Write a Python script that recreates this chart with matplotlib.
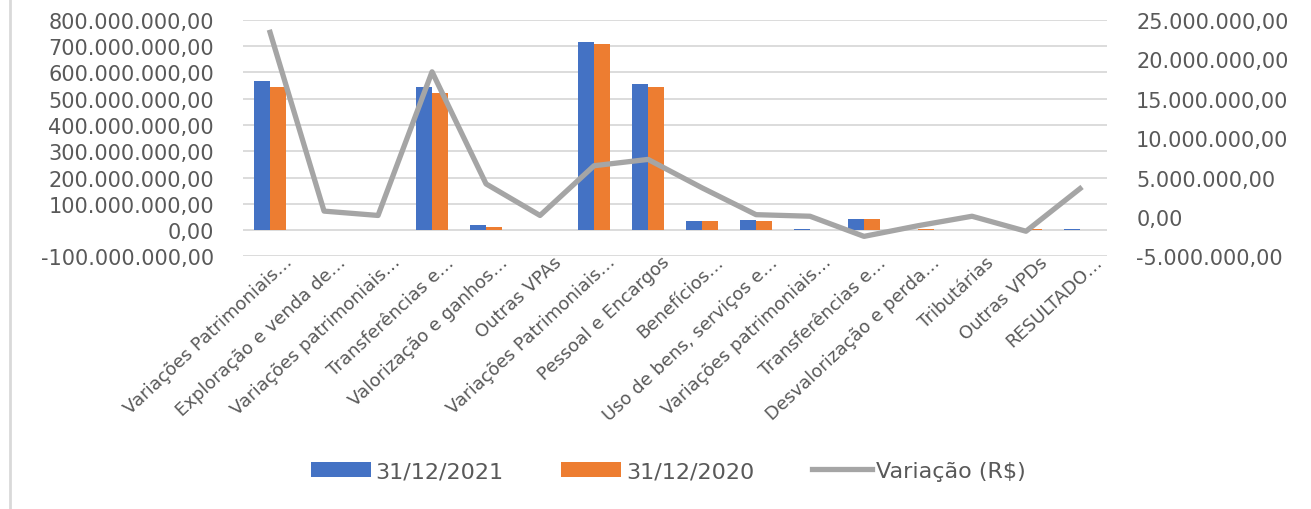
import matplotlib.pyplot as plt
import matplotlib.ticker as mticker
import matplotlib.transforms as mtransforms
import numpy as np

# Dados (R$)
categorias = [
    "Variações Patrimoniais…",
    "Exploração e venda de…",
    "Variações patrimoniais…",
    "Transferências e…",
    "Valorização e ganhos…",
    "Outras VPAs",
    "Variações Patrimoniais…",
    "Pessoal e Encargos",
    "Benefícios…",
    "Uso de bens, serviços e…",
    "Variações patrimoniais…",
    "Transferências e…",
    "Desvalorização e perda…",
    "Tributárias",
    "Outras VPDs",
    "RESULTADO…",
]
valores_2021 = [567e6, 0, 0, 543e6, 19e6, 0, 714e6, 556e6, 35e6, 39e6, 4e6, 44e6, 1e6, 0, 1e6, 4e6]
valores_2020 = [543e6, 0, 0, 520e6, 12e6, 0, 709e6, 546e6, 35e6, 35e6, 2e6, 44e6, 3e6, 0, 4e6, 0]
variacao = [23.4e6, 0.75e6, 0.2e6, 18.4e6, 4.2e6, 0.2e6, 6.5e6, 7.3e6, 3.7e6, 0.3e6,
            0.1e6, -2.45e6, -1.1e6, 0.1e6, -1.8e6, 3.6e6]

cor_2021 = "#4472C4"
cor_2020 = "#ED7D31"
cor_var = "#A5A5A5"
cor_texto = "#595959"


def formato_br(v, pos=None):
    s = f"{abs(v):,.2f}".replace(",", "X").replace(".", ",").replace("X", ".")
    return ("-" if v < 0 else "") + s


fig = plt.figure(figsize=(13.11, 5.10), dpi=100)
ax = fig.add_axes([0.1854, 0.4951, 0.659, 0.4643])
ax2 = ax.twinx()

x = np.arange(len(categorias))
w = 0.29
ax.bar(x - w / 2, valores_2021, w, color=cor_2021, label="31/12/2021", zorder=2)
ax.bar(x + w / 2, valores_2020, w, color=cor_2020, label="31/12/2020", zorder=2)
ax2.plot(x, variacao, color=cor_var, lw=3.8, label="Variação (R$)")

ax.set_xlim(-0.5, len(categorias) - 0.5)
ax.set_ylim(-100e6, 800e6)
ax.set_yticks(np.arange(-100e6, 800e6 + 1, 100e6))
ax2.set_ylim(-5e6, 25e6)
ax2.set_yticks(np.arange(-5e6, 25e6 + 1, 5e6))
ax.yaxis.set_major_formatter(mticker.FuncFormatter(formato_br))
ax2.yaxis.set_major_formatter(mticker.FuncFormatter(formato_br))

ax.grid(axis="y", color="#D9D9D9", lw=1.3, zorder=0)
ax.set_axisbelow(True)
for a in (ax, ax2):
    for s in a.spines.values():
        s.set_visible(False)
    a.tick_params(length=0, labelsize=15, labelcolor=cor_texto)
ax.tick_params(axis="y", pad=21)
ax2.tick_params(axis="y", pad=21)

ax.set_xticks(x)
ax.set_xticklabels(categorias, rotation=43, ha="right", rotation_mode="anchor",
                   fontsize=13, color=cor_texto)
ax.tick_params(axis="x", pad=0)
desloc = mtransforms.ScaledTranslation(0.13, 0.04, fig.dpi_scale_trans)
for lbl in ax.get_xticklabels():
    lbl.set_transform(lbl.get_transform() + desloc)

h1, l1 = ax.get_legend_handles_labels()
h2, l2 = ax2.get_legend_handles_labels()
fig.legend(h1 + h2, l1 + l2, loc="center", bbox_to_anchor=(0.51, 0.074), ncol=3,
           frameon=False, fontsize=16, labelcolor=cor_texto, handlelength=2.7,
           handletextpad=0.2, columnspacing=2.6)

# borda esquerda do gráfico
fig.add_artist(plt.Line2D([0.008, 0.008], [0.0, 1.0], color="#D9D9D9", lw=2))

fig.savefig("out.png", dpi=100)
